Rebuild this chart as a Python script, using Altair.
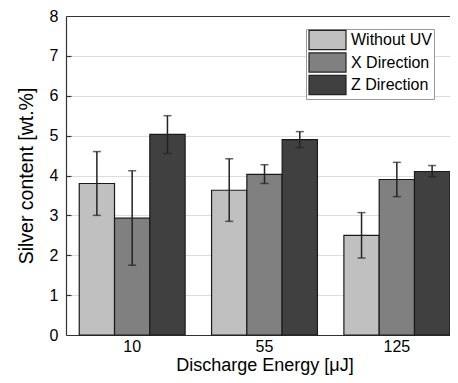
import altair as alt
import pandas as pd

energies = ['10', '55', '125']
series = ['Without UV', 'X Direction', 'Z Direction']
without_uv = [3.80, 3.63, 2.50]
x_dir = [2.93, 4.03, 3.90]
z_dir = [5.03, 4.90, 4.10]
without_uv_lo = [3.00, 2.85, 1.93]
without_uv_hi = [4.60, 4.42, 3.07]
x_dir_lo = [1.75, 3.80, 3.47]
x_dir_hi = [4.12, 4.27, 4.33]
z_dir_lo = [4.55, 4.70, 3.97]
z_dir_hi = [5.50, 5.10, 4.25]
colors = ['#c0c0c0', '#808080', '#404040']
y_ticks = [0, 1, 2, 3, 4, 5, 6, 7, 8]

rows = []
for i, e in enumerate(energies):
    vals = [without_uv[i], x_dir[i], z_dir[i]]
    los = [without_uv_lo[i], x_dir_lo[i], z_dir_lo[i]]
    his = [without_uv_hi[i], x_dir_hi[i], z_dir_hi[i]]
    for s, v, lo, hi in zip(series, vals, los, his):
        rows.append(dict(energy=e, series=s, value=v, lo=lo, hi=hi))
df = pd.DataFrame(rows)

FONT = 'Liberation Sans'
W = 384
H = 319

xscale = alt.Scale(domain=energies, range=[0, 397], paddingInner=0.2, paddingOuter=0.1)
offscale = alt.Scale(domain=series, paddingInner=0, paddingOuter=0)
yscale = alt.Scale(domain=[0, 8], nice=False)

base = alt.Chart(df)

bars = base.mark_bar(stroke='#1a1a1a', strokeWidth=1.2).encode(
    x=alt.X('energy:N', sort=energies, scale=xscale,
            axis=alt.Axis(orient='bottom', title='Discharge Energy [μJ]', labelAngle=0,
                          ticks=False, domain=True, domainColor='#333', domainWidth=1.2,
                          labelFont=FONT, labelFontSize=16, labelColor='black', labelPadding=3,
                          titleFont=FONT, titleFontSize=18, titleFontWeight='normal',
                          titleColor='black', titlePadding=2.3)),
    xOffset=alt.XOffset('series:N', sort=series, scale=offscale),
    y=alt.Y('value:Q', scale=yscale,
            axis=alt.Axis(orient='left', values=y_ticks, title='Silver content [wt.%]',
                          ticks=False, domain=True, domainColor='#333', domainWidth=1.2,
                          labelFont=FONT, labelFontSize=16, labelColor='black', labelPadding=8,
                          titleFont=FONT, titleFontSize=19.5, titleFontWeight='normal',
                          titleColor='black', titlePadding=13)),
    fill=alt.Fill('series:N', sort=series, scale=alt.Scale(domain=series, range=colors),
                  legend=alt.Legend(orient='none', legendX=240, legendY=13, title=None,
                                    symbolType='M-1,-1.2H3.625V1.2H-1Z', symbolSize=256,
                                    symbolStrokeColor='#222', symbolStrokeWidth=1.2,
                                    symbolOpacity=1,
                                    labelFont=FONT, labelFontSize=16, labelColor='black',
                                    labelOffset=25, labelLimit=300, rowPadding=-1.5, padding=2,
                                    strokeColor='#999', fillColor='white')),
)

rules = base.mark_rule(color='#222', strokeWidth=1.5).encode(
    x=alt.X('energy:N', sort=energies, scale=xscale,
            axis=alt.Axis(orient='top', title=None, labels=False, ticks=False,
                          domain=True, domainColor='#333', domainWidth=1.2)),
    xOffset=alt.XOffset('series:N', sort=series, scale=offscale),
    y=alt.Y('lo:Q', scale=yscale,
            axis=alt.Axis(orient='right', offset=-W, values=y_ticks[1:-1], title=None,
                          labels=False, domain=False, ticks=True, tickSize=5,
                          tickColor='#333', tickWidth=1.2)),
    y2='hi:Q',
)

caps = base.transform_fold(['lo', 'hi'], as_=['which', 'ev']).mark_tick(
    orient='horizontal', size=8, thickness=1.5, color='#222'
).encode(
    x=alt.X('energy:N', sort=energies, scale=xscale, axis=None),
    xOffset=alt.XOffset('series:N', sort=series, scale=offscale),
    y=alt.Y('ev:Q', scale=yscale, axis=None),
)

chart = alt.layer(bars, rules, caps).resolve_axis(
    x='independent', y='independent'
).properties(
    width=W, height=H,
    autosize=alt.AutoSizeParams(type='none'),
    padding={'left': 58, 'top': 8, 'right': 0, 'bottom': 367 - 8 - H},
).configure_view(stroke=None)

chart.save("out.html", embed_options={"renderer": "svg", "actions": False})
